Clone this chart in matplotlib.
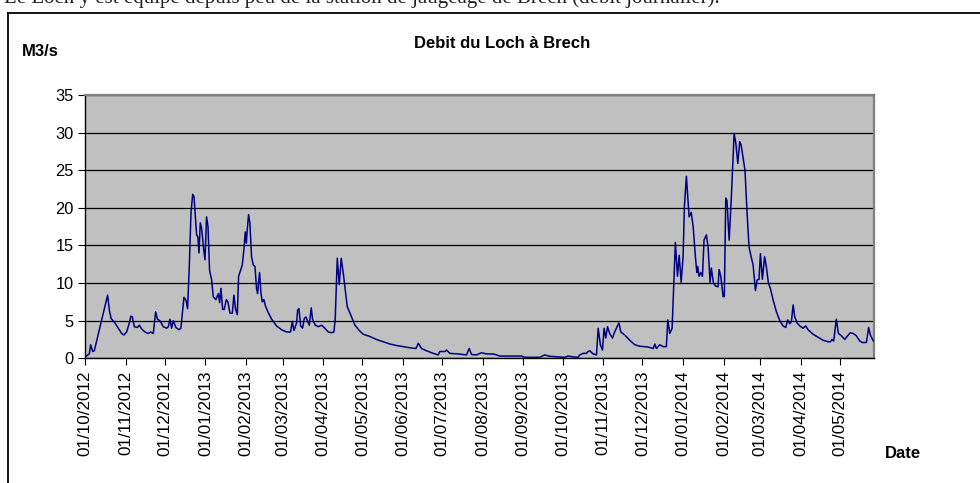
import datetime as dt
import numpy as np
import matplotlib
matplotlib.use("Agg")
import matplotlib.pyplot as plt
import matplotlib.dates as mdates
from matplotlib.lines import Line2D

plt.rcParams['font.family'] = ['Liberation Sans', 'DejaVu Sans']

title = "Debit du Loch à Brech"
ylabel = "M3/s"
xlabel = "Date"
start_date = dt.datetime(2012, 10, 1)
end_day = 603

# days since 01/10/2012
days = [0, 1.8, 3.3, 4.3, 5.9, 7.1, 17.3, 18.6, 19.9, 22.9, 25.5, 28, 29.8, 31.8, 33.9, 35.1, 36.2,
        37.7, 40, 41.5, 43.3, 45.8, 48.4, 50.2, 52.2, 54, 55.3, 57.3, 59.8, 62.4, 63.7, 64.9, 66.2,
        67.5, 69.5, 71.8, 73.3, 74.6, 75.6, 77.2, 78.4, 79.7, 81, 82.3, 83.3, 84, 85.3, 86.3, 87.1,
        88.1, 89.1, 90.7, 91.7, 92.9, 94, 95.2, 96.8, 98, 100, 101.9, 102.9, 103.9, 105.2, 106.4,
        108, 109.2, 110.8, 112.6, 113.8, 115.1, 116.4, 117.4, 118.9, 120.2, 121.5, 122.5, 123.3,
        124, 125, 126, 127.3, 128.6, 129.9, 131.1, 131.9, 133.4, 134.5, 135.5, 136.7, 138, 140,
        142.6, 146.4, 150.2, 154, 157.1, 158.4, 159.7, 161.7, 162.5, 163.5, 164.8, 166.3, 167.6,
        168.8, 170.1, 171.4, 172.9, 173.9, 176, 178.3, 180.8, 183.3, 185.9, 188.4, 190.2, 191.2,
        192.8, 194.3, 195.8, 197.4, 198.6, 200.4, 203, 206.3, 209.6, 212.6, 217.7, 222.8, 227.9,
        233, 238.1, 243.2, 248.3, 252.9, 254.7, 257.2, 261, 266.1, 269.9, 271.2, 275, 276.3, 278.8,
        285.2, 291.6, 293.6, 295.4, 299.2, 303, 306.9, 312, 314.5, 317, 324.7, 333.6, 336.2, 347.6,
        351.4, 355.2, 366.7, 369.2, 373, 376.9, 378.1, 380.7, 383.2, 384.5, 385.8, 388.3, 390.9,
        392.2, 393.9, 395.5, 396.7, 398, 399.3, 401, 403.1, 404.8, 406.9, 408.1, 409.5, 412.5,
        416.3, 420.2, 424, 430.4, 434.2, 435.5, 436.7, 439.3, 441.8, 444.3, 445.4, 446.9, 448.7,
        451.2, 452.8, 454.1, 455.6, 457.1, 458.1, 459.6, 461.7, 463.3, 464.8, 466.5, 467.6, 468.3,
        469.3, 470.6, 471.9, 473.1, 474.9, 476.2, 477.7, 478.7, 480.3, 482, 483.8, 484.6, 485.9,
        487.7, 488.6, 489.7, 490.6, 492.3, 494, 496.1, 497.4, 498.9, 500.4, 501.4, 503, 504.4, 506,
        507.5, 509.1, 510.6, 512.4, 513.6, 515.1, 516.2, 517.7, 519.4, 520.7, 522.3, 523.8, 525.8,
        528.4, 531, 533.5, 535.5, 537.1, 538.6, 539.9, 541.2, 542.4, 544.2, 546.3, 548.8, 550.8,
        552.6, 556.4, 560.2, 564.1, 567.9, 569.7, 570.9, 572.2, 574.2, 575.8, 578.1, 580.6, 582.4,
        584.9, 587, 589.5, 592.1, 594.1, 597.2, 598.9, 600.2, 602.5]

debit = [0.2, 0.4, 0.6, 1.8, 0.9, 1.0, 8.4, 6.4, 5.3, 4.7, 4.0, 3.3, 3.1, 3.5, 4.7, 5.6, 5.5,
         4.2, 4.1, 4.4, 3.9, 3.5, 3.3, 3.5, 3.3, 6.2, 5.2, 5.0, 4.2, 4.0, 4.2, 5.2, 4.0,
         5.0, 4.1, 3.8, 4.0, 6.4, 8.1, 7.7, 6.6, 12.2, 19.3, 21.8, 21.5, 19.7, 16.4, 16.1, 14.0,
         18.0, 17.3, 14.5, 13.1, 18.8, 17.5, 11.7, 10.4, 8.2, 7.8, 8.6, 7.4, 9.3, 6.5, 6.5,
         7.8, 7.5, 6.0, 6.0, 8.4, 6.5, 5.8, 10.9, 11.7, 12.4, 14.6, 16.8, 15.3,
         17.1, 19.1, 18.0, 13.5, 12.4, 12.2, 9.3, 8.6, 11.4, 8.6, 7.5, 7.8, 6.9, 6.1,
         5.2, 4.3, 3.8, 3.5, 3.5, 4.9, 3.7, 4.7, 6.4, 6.6, 4.3, 4.0, 5.3,
         5.5, 5.0, 4.4, 6.7, 5.2, 4.4, 4.2, 4.4, 4.0, 3.5, 3.4, 3.5, 5.1,
         13.3, 9.8, 13.3, 11.3, 9.5, 6.9, 5.8, 4.4, 3.7, 3.2, 2.9, 2.5, 2.2,
         1.9, 1.7, 1.55, 1.4, 1.3, 2.0, 1.3, 1.0, 0.66, 0.45, 0.9, 0.9, 1.1, 0.66,
         0.58, 0.45, 1.3, 0.5, 0.45, 0.75, 0.58, 0.58, 0.45, 0.3, 0.3, 0.3, 0.13, 0.13,
         0.45, 0.27, 0.13, 0.3, 0.2, 0.13, 0.45, 0.66, 0.66, 0.9, 1.0, 0.58, 0.45,
         4.0, 1.8, 1.1, 4.0, 2.7, 4.2, 3.3, 2.7, 3.5, 4.3, 4.7, 3.5, 3.1,
         2.4, 1.8, 1.6, 1.5, 1.3, 1.9, 1.3, 1.8, 1.55, 1.55, 5.1, 3.3, 4.0,
         15.4, 10.9, 13.7, 10.1, 13.5, 20.2, 24.2, 18.8, 19.4, 17.5, 13.5, 11.4, 12.2,
         10.9, 11.4, 10.9, 15.7, 16.4, 14.8, 10.1, 12.0, 10.0, 9.6, 9.5, 11.8, 10.9,
         8.2, 8.2, 21.3, 21.0, 15.7, 21.5, 29.9, 28.6, 25.9, 28.8, 28.4, 26.6, 25.0, 19.3,
         14.8, 13.5, 12.4, 9.0, 10.4, 10.5, 13.9, 10.5, 13.5, 12.2, 10.0, 9.3, 7.8,
         6.2, 5.0, 4.3, 4.1, 5.1, 4.6, 4.9, 7.1, 5.5, 4.7, 4.3, 4.0, 4.3,
         3.8, 3.2, 2.8, 2.4, 2.2, 2.2, 2.5, 2.3, 5.2, 3.3, 3.0, 2.5, 2.9,
         3.4, 3.3, 3.0, 2.3, 2.1, 2.1, 4.1, 3.1, 2.3]

y_ticks = [0, 5, 10, 15, 20, 25, 30, 35]

fig = plt.figure(figsize=(9.8, 4.83), dpi=100)
ax = fig.add_axes([85 / 980, 1 - 358.3 / 483, (874 - 85) / 980, (358.3 - 95) / 483])

t0 = mdates.date2num(start_date)
xs = t0 + np.array(days)
ax.set_facecolor('#C0C0C0')
ax.plot(xs, debit, color='#000080', linewidth=1.1, zorder=3)

ax.set_xlim(t0, t0 + end_day)
ax.set_ylim(0, 35)
ax.set_yticks(y_ticks)
ax.yaxis.grid(True, color='black', linewidth=0.9)
ax.set_axisbelow(True)

ax.xaxis.set_major_locator(mdates.MonthLocator(bymonthday=1))
ax.xaxis.set_major_formatter(mdates.DateFormatter('%d/%m/%Y'))
for lab in ax.get_xticklabels():
    lab.set_rotation(90)
ax.tick_params(axis='x', labelsize=12.3, length=5, width=0.8, color='black', pad=4)
ax.tick_params(axis='y', labelsize=11.8, length=5, width=0.8, color='black', pad=3)

for side in ['left', 'bottom']:
    ax.spines[side].set_color('black')
    ax.spines[side].set_linewidth(1.0)
for side in ['top', 'right']:
    ax.spines[side].set_color('#808080')
    ax.spines[side].set_linewidth(1.6)

fig.text(502 / 980, 1 - 43 / 483, title, ha='center', va='center', fontsize=12, fontweight='bold')
fig.text(22 / 980, 1 - 52 / 483, ylabel, ha='left', va='center', fontsize=12, fontweight='bold')
fig.text(885 / 980, 1 - 454 / 483, xlabel, ha='left', va='center', fontsize=12, fontweight='bold')

# partially visible caption above the chart frame (cut off at the top, as in the source)
fig.text(4 / 980, 1 - 2.5 / 483, "Le Loch y est équipé depuis peu de la station de jaugeage de Brech (débit journalier).",
         ha='left', va='baseline', fontsize=15, family=['Liberation Serif', 'DejaVu Serif'], color='#222222')

# chart frame (left and top edges visible)
fig.add_artist(Line2D([7.5 / 980, 7.5 / 980], [0, 1 - 12.5 / 483], transform=fig.transFigure,
                      color='black', linewidth=1.3))
fig.add_artist(Line2D([7.5 / 980, 1], [1 - 12.5 / 483, 1 - 12.5 / 483], transform=fig.transFigure,
                      color='black', linewidth=1.3))

fig.savefig('out.png', dpi=100)
